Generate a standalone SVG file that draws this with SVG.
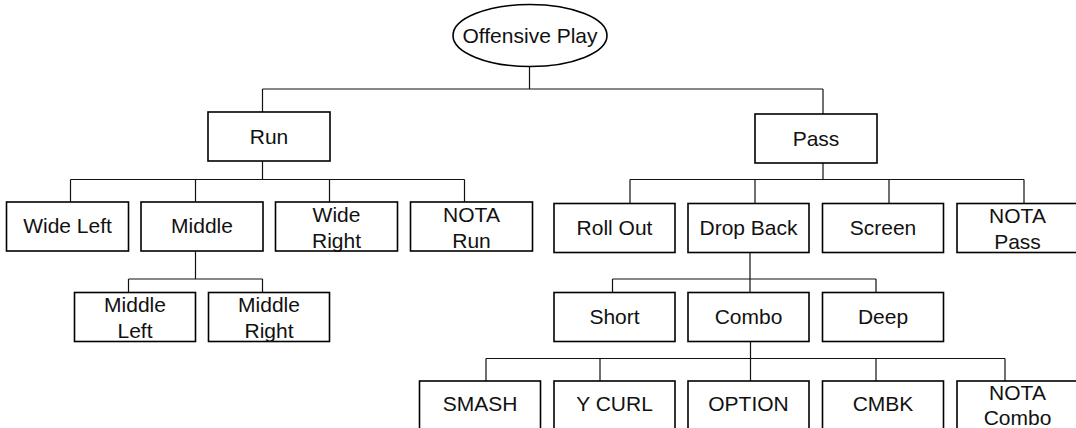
<svg xmlns="http://www.w3.org/2000/svg" width="1076" height="428" viewBox="0 0 1076 428">
  <style>
    .box { fill: #fff; stroke: #000; stroke-width: 1.6; }
    .lbl { font-family: "Liberation Sans", Arial, sans-serif; font-size: 21px; fill: #111; text-anchor: middle; }
    .wire { fill: none; stroke: #111; stroke-width: 1.2; }
  </style>
  <rect width="1076" height="428" fill="#fff"/>

  <!-- connectors -->
  <g id="connectors" class="wire">
    <!-- root to Run / Pass -->
    <path d="M529.5 66.5 V89 M262.5 89 H823 M262.5 89 V112 M823 89 V114"/>
    <!-- Run children -->
    <path d="M262.5 161 V179.5 M70.5 179.5 H464.5 M70.5 179.5 V202 M195.5 179.5 V202 M329.5 179.5 V202 M464.5 179.5 V202"/>
    <!-- Middle children -->
    <path d="M195.5 251 V279 M128.5 279 H262.5 M128.5 279 V292.5 M262.5 279 V292.5"/>
    <!-- Pass children -->
    <path d="M823 163 V179.5 M630 179.5 H1024 M630 179.5 V203.5 M755 179.5 V203.5 M889 179.5 V203.5 M1024 179.5 V203.5"/>
    <!-- Drop Back children -->
    <path d="M750 252.5 V279 M612.5 279 H876 M612.5 279 V292.5 M750 279 V292.5 M876 279 V292.5"/>
    <!-- Combo children -->
    <path d="M750.5 341.5 V358.5 M486 358.5 H1005 M486 358.5 V381 M600 358.5 V381 M750.5 358.5 V381 M876 358.5 V381 M1005 358.5 V381"/>
  </g>

  <!-- root -->
  <g id="offensive-play">
    <ellipse class="box" cx="530" cy="35.5" rx="77" ry="31"/>
    <text class="lbl" x="530" y="43">Offensive Play</text>
  </g>

  <!-- level 1 -->
  <g id="run">
    <rect class="box" x="208" y="112" width="122" height="49"/>
    <text class="lbl" x="269" y="143.5">Run</text>
  </g>
  <g id="pass">
    <rect class="box" x="755" y="114" width="122" height="49"/>
    <text class="lbl" x="816" y="145.5">Pass</text>
  </g>

  <!-- Run children -->
  <g id="wide-left">
    <rect class="box" x="6.5" y="202" width="122" height="49"/>
    <text class="lbl" x="67.5" y="233">Wide Left</text>
  </g>
  <g id="middle">
    <rect class="box" x="141" y="202" width="122" height="49"/>
    <text class="lbl" x="202" y="233">Middle</text>
  </g>
  <g id="wide-right">
    <rect class="box" x="275.5" y="202" width="122" height="49"/>
    <text class="lbl" x="336.5" y="221.5">Wide</text>
    <text class="lbl" x="336.5" y="247.5">Right</text>
  </g>
  <g id="nota-run">
    <rect class="box" x="410.5" y="202" width="122" height="49"/>
    <text class="lbl" x="471.5" y="221.5">NOTA</text>
    <text class="lbl" x="471.5" y="247.5">Run</text>
  </g>

  <!-- Middle children -->
  <g id="middle-left">
    <rect class="box" x="74.5" y="292.5" width="121" height="49"/>
    <text class="lbl" x="135" y="312">Middle</text>
    <text class="lbl" x="135" y="337.5">Left</text>
  </g>
  <g id="middle-right">
    <rect class="box" x="208.5" y="292.5" width="121" height="49"/>
    <text class="lbl" x="269" y="312">Middle</text>
    <text class="lbl" x="269" y="337.5">Right</text>
  </g>

  <!-- Pass children -->
  <g id="roll-out">
    <rect class="box" x="554" y="203.5" width="121" height="49"/>
    <text class="lbl" x="614.5" y="234.5">Roll Out</text>
  </g>
  <g id="drop-back">
    <rect class="box" x="688" y="203.5" width="121" height="49"/>
    <text class="lbl" x="748.5" y="234.5">Drop Back</text>
  </g>
  <g id="screen">
    <rect class="box" x="822.5" y="203.5" width="121" height="49"/>
    <text class="lbl" x="883" y="234.5">Screen</text>
  </g>
  <g id="nota-pass">
    <rect class="box" x="957" y="203.5" width="121" height="49"/>
    <text class="lbl" x="1017.5" y="222.5">NOTA</text>
    <text class="lbl" x="1017.5" y="248.5">Pass</text>
  </g>

  <!-- Drop Back children -->
  <g id="short">
    <rect class="box" x="554" y="292.5" width="121" height="49"/>
    <text class="lbl" x="614.5" y="323.5">Short</text>
  </g>
  <g id="combo">
    <rect class="box" x="688" y="292.5" width="121" height="49"/>
    <text class="lbl" x="748.5" y="323.5">Combo</text>
  </g>
  <g id="deep">
    <rect class="box" x="822.5" y="292.5" width="121" height="49"/>
    <text class="lbl" x="883" y="323.5">Deep</text>
  </g>

  <!-- Combo children -->
  <g id="smash">
    <rect class="box" x="419.5" y="381" width="121" height="49"/>
    <text class="lbl" x="480" y="411">SMASH</text>
  </g>
  <g id="y-curl">
    <rect class="box" x="554" y="381" width="121" height="49"/>
    <text class="lbl" x="614.5" y="411">Y CURL</text>
  </g>
  <g id="option">
    <rect class="box" x="688" y="381" width="121" height="49"/>
    <text class="lbl" x="748.5" y="411">OPTION</text>
  </g>
  <g id="cmbk">
    <rect class="box" x="822.5" y="381" width="121" height="49"/>
    <text class="lbl" x="883" y="411">CMBK</text>
  </g>
  <g id="nota-combo">
    <rect class="box" x="957" y="381" width="121" height="49"/>
    <text class="lbl" x="1017.5" y="400">NOTA</text>
    <text class="lbl" x="1017.5" y="425">Combo</text>
  </g>
</svg>
